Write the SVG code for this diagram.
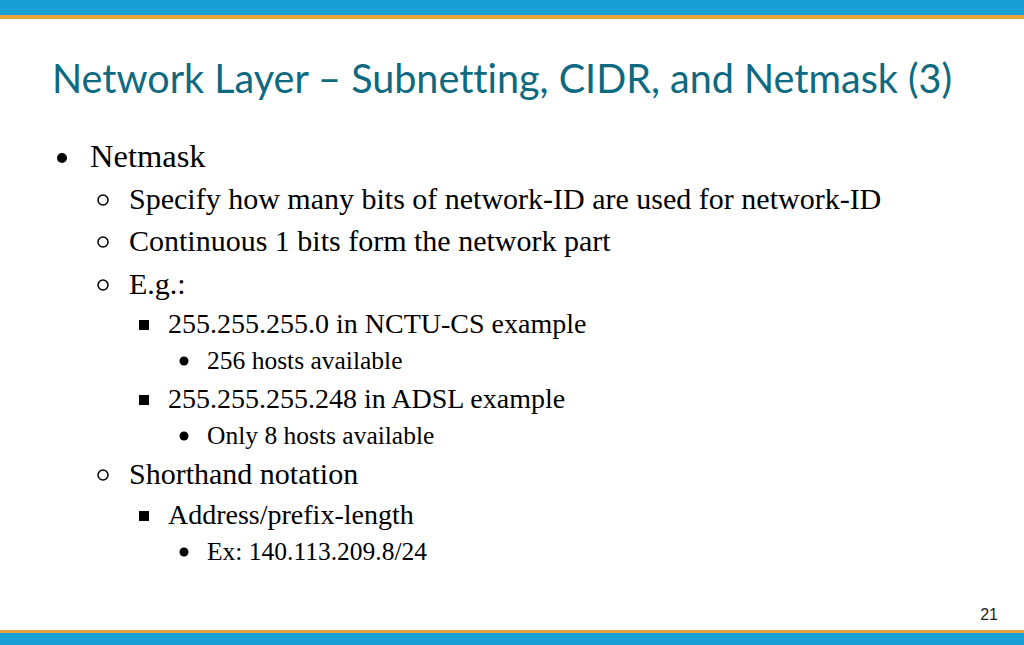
<svg xmlns="http://www.w3.org/2000/svg" width="1024" height="645" viewBox="0 0 1024 645">
<style>
.t{font-family:"Liberation Serif",serif;fill:#000}
.l1{font-size:32.5px}.l2{font-size:30px}.l3{font-size:28px}.l4{font-size:25.5px}
</style>
<rect width="1024" height="645" fill="#fff"/>
<rect x="0" y="0" width="1024" height="15" fill="#1a9fd4"/>
<rect x="0" y="15" width="1024" height="4" fill="#e8a33a"/>
<rect x="0" y="630" width="1024" height="3" fill="#e8a33a"/>
<rect x="0" y="633" width="1024" height="12" fill="#1a9fd4"/>
<text x="52" y="93" font-family="Lato,'Open Sans',sans-serif" font-size="40" fill="#0e6a80" style="font-variant-ligatures:none" textLength="900" lengthAdjust="spacingAndGlyphs">Network Layer – Subnetting, CIDR, and Netmask (3)</text>
<g class="t">
<circle cx="62" cy="158" r="5"/>
<text class="l1" x="90" y="167">Netmask</text>
<circle cx="103" cy="200" r="5" fill="none" stroke="#000" stroke-width="1.5"/>
<text class="l2" x="129" y="209">Specify how many bits of network-ID are used for network-ID</text>
<circle cx="103" cy="242" r="5" fill="none" stroke="#000" stroke-width="1.5"/>
<text class="l2" x="129" y="251">Continuous 1 bits form the network part</text>
<circle cx="103" cy="285" r="5" fill="none" stroke="#000" stroke-width="1.5"/>
<text class="l2" x="129" y="294">E.g.:</text>
<rect x="139" y="320" width="10" height="10"/>
<text class="l3" x="168" y="333">255.255.255.0 in NCTU-CS example</text>
<circle cx="184" cy="361" r="4.5"/>
<text class="l4" x="207" y="369">256 hosts available</text>
<rect x="139" y="395" width="10" height="10"/>
<text class="l3" x="168" y="408">255.255.255.248 in ADSL example</text>
<circle cx="184" cy="436" r="4.5"/>
<text class="l4" x="207" y="444">Only 8 hosts available</text>
<circle cx="103" cy="475" r="5" fill="none" stroke="#000" stroke-width="1.5"/>
<text class="l2" x="129" y="484">Shorthand notation</text>
<rect x="139" y="511" width="10" height="10"/>
<text class="l3" x="168" y="524">Address/prefix-length</text>
<circle cx="184" cy="552" r="4.5"/>
<text class="l4" x="207" y="560">Ex: 140.113.209.8/24</text>
</g>
<text x="998" y="620" font-family="'Liberation Sans',sans-serif" font-size="16" text-anchor="end" fill="#222">21</text>
</svg>
